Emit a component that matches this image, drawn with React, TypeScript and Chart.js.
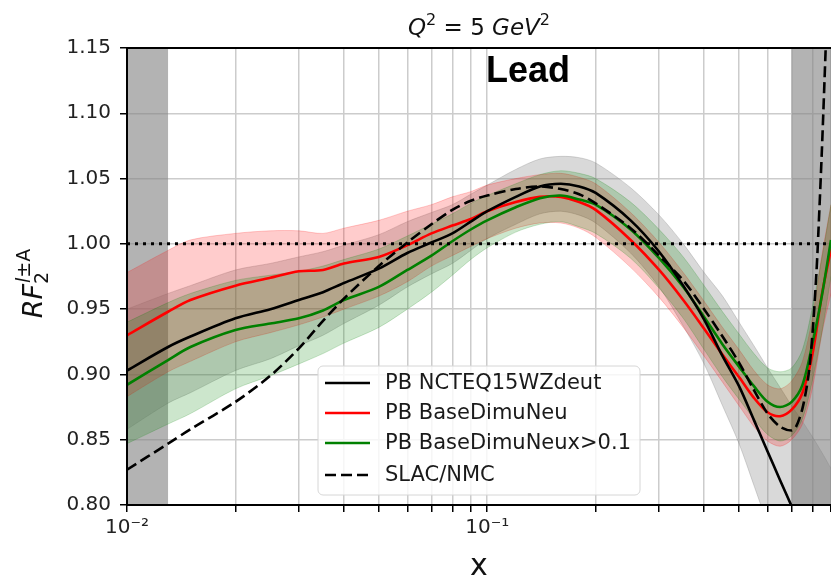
import React, { useEffect, useRef } from "react";
import { Chart, registerables } from "chart.js";

Chart.register(...registerables);

// ---------------- data ----------------
const xGrid = [0.01, 0.013, 0.015, 0.02, 0.025, 0.03, 0.035, 0.04, 0.05, 0.06, 0.07, 0.08, 0.09, 0.1, 0.12, 0.14, 0.16, 0.18, 0.2, 0.25, 0.3, 0.35, 0.4, 0.45, 0.5, 0.55, 0.6, 0.65, 0.7, 0.75, 0.8, 0.85, 0.9];

const ncteqCentral = [0.903, 0.921, 0.929, 0.943, 0.950, 0.957, 0.963, 0.970, 0.981, 0.993, 1.001, 1.008, 1.017, 1.025, 1.036, 1.044, 1.046, 1.044, 1.039, 1.018, 0.994, 0.968, 0.942, 0.914, 0.891, 0.865, 0.841, 0.819, 0.799, 0.780, 0.762, 0.746, 0.730];
const ncteqUpper = [0.950, 0.962, 0.968, 0.980, 0.985, 0.990, 0.994, 0.999, 1.007, 1.017, 1.024, 1.030, 1.038, 1.045, 1.057, 1.065, 1.067, 1.066, 1.062, 1.043, 1.022, 1.000, 0.978, 0.960, 0.940, 0.922, 0.905, 0.890, 0.876, 0.864, 0.852, 0.840, 0.828];
const ncteqLower = [0.858, 0.878, 0.886, 0.903, 0.912, 0.922, 0.930, 0.939, 0.953, 0.967, 0.977, 0.985, 0.995, 1.004, 1.015, 1.023, 1.025, 1.022, 1.016, 0.993, 0.967, 0.937, 0.908, 0.876, 0.847, 0.815, 0.785, 0.755, 0.725, 0.700, 0.670, 0.640, 0.610];

const baseCentral = [0.930, 0.948, 0.957, 0.968, 0.974, 0.979, 0.980, 0.985, 0.990, 0.999, 1.008, 1.014, 1.019, 1.025, 1.032, 1.036, 1.036, 1.032, 1.026, 1.003, 0.980, 0.957, 0.935, 0.915, 0.898, 0.882, 0.871, 0.868, 0.873, 0.886, 0.916, 0.962, 0.996];
const baseUpper = [0.978, 0.995, 1.003, 1.008, 1.010, 1.010, 1.008, 1.012, 1.018, 1.025, 1.030, 1.036, 1.040, 1.045, 1.050, 1.053, 1.054, 1.051, 1.046, 1.024, 1.001, 0.978, 0.956, 0.936, 0.919, 0.903, 0.892, 0.889, 0.895, 0.910, 0.944, 0.992, 1.030];
const baseLower = [0.883, 0.902, 0.910, 0.925, 0.932, 0.938, 0.944, 0.950, 0.960, 0.971, 0.983, 0.991, 0.998, 1.004, 1.012, 1.016, 1.016, 1.012, 1.005, 0.982, 0.959, 0.936, 0.914, 0.894, 0.876, 0.860, 0.849, 0.845, 0.850, 0.862, 0.890, 0.932, 0.962];

const cutCentral = [0.892, 0.911, 0.921, 0.934, 0.939, 0.943, 0.949, 0.957, 0.967, 0.980, 0.991, 1.002, 1.011, 1.018, 1.028, 1.035, 1.037, 1.034, 1.030, 1.011, 0.989, 0.967, 0.944, 0.923, 0.906, 0.891, 0.879, 0.875, 0.879, 0.892, 0.924, 0.961, 1.003];
const cutUpper = [0.940, 0.955, 0.962, 0.972, 0.976, 0.979, 0.983, 0.988, 0.996, 1.006, 1.015, 1.023, 1.031, 1.037, 1.046, 1.053, 1.056, 1.054, 1.050, 1.032, 1.011, 0.990, 0.968, 0.948, 0.931, 0.916, 0.905, 0.902, 0.905, 0.919, 0.952, 0.990, 1.030];
const cutLower = [0.847, 0.862, 0.870, 0.889, 0.899, 0.908, 0.916, 0.924, 0.936, 0.950, 0.963, 0.976, 0.988, 0.997, 1.009, 1.015, 1.017, 1.013, 1.008, 0.989, 0.966, 0.943, 0.919, 0.898, 0.881, 0.866, 0.854, 0.849, 0.853, 0.866, 0.896, 0.933, 0.975];

const slacX = [0.01, 0.013, 0.015, 0.02, 0.025, 0.03, 0.035, 0.04, 0.05, 0.06, 0.07, 0.08, 0.09, 0.1, 0.12, 0.14, 0.16, 0.18, 0.2, 0.25, 0.3, 0.35, 0.4, 0.45, 0.5, 0.55, 0.6, 0.65, 0.7, 0.72, 0.75, 0.78, 0.8, 0.82, 0.83, 0.85, 0.87, 0.9];
const slacY = [0.827, 0.847, 0.858, 0.879, 0.899, 0.920, 0.941, 0.958, 0.983, 1.001, 1.015, 1.026, 1.033, 1.037, 1.042, 1.044, 1.042, 1.038, 1.031, 1.012, 0.991, 0.972, 0.950, 0.929, 0.909, 0.888, 0.870, 0.860, 0.857, 0.860, 0.874, 0.900, 0.932, 0.978, 1.008, 1.075, 1.150, 1.260];

const unityX = [0.01, 0.9];
const unityY = [1.0, 1.0];

const xTicks = [0.01, 0.02, 0.03, 0.04, 0.05, 0.06, 0.07, 0.08, 0.09, 0.1, 0.2, 0.3, 0.4, 0.5, 0.6, 0.7, 0.8, 0.9];
const xTickLabels: Record<string, string> = { "0.01": "10\u207B\u00B2", "0.1": "10\u207B\u00B9" };
const yTicks = [0.8, 0.85, 0.9, 0.95, 1.0, 1.05, 1.1, 1.15];
const shadedRanges = [[0.01, 0.013], [0.7, 0.9]];

const seriesNames = ["PB NCTEQ15WZdeut", "PB BaseDimuNeu", "PB BaseDimuNeux>0.1", "SLAC/NMC"];

const pts = (xs: number[], ys: number[]) => xs.map((x, i) => ({ x, y: ys[i] }));

const FONT = '"DejaVu Sans"';

type Run = { t: string; size: number; italic?: boolean; dy?: number; bold?: boolean; family?: string };

function runWidth(ctx: CanvasRenderingContext2D, r: Run) {
  ctx.font = `${r.italic ? "italic " : ""}${r.bold ? "bold " : ""}${r.size}px ${r.family || FONT}`;
  return ctx.measureText(r.t).width;
}
function drawRuns(ctx: CanvasRenderingContext2D, runs: Run[], x: number, y: number) {
  let cx = x;
  for (const r of runs) {
    const w = runWidth(ctx, r);
    ctx.fillText(r.t, cx, y + (r.dy || 0));
    cx += w;
  }
  return cx - x;
}
function totalWidth(ctx: CanvasRenderingContext2D, runs: Run[]) {
  return runs.reduce((s, r) => s + runWidth(ctx, r), 0);
}

const decorPlugin = {
  id: "decor",
  beforeDatasetsDraw(chart: any) {
    const { ctx, chartArea, scales } = chart;
    ctx.save();
    ctx.fillStyle = "rgba(128,128,128,0.6)";
    for (const [a, b] of shadedRanges) {
      const x0 = scales.x.getPixelForValue(a);
      const x1 = scales.x.getPixelForValue(b);
      ctx.fillRect(x0, chartArea.top, x1 - x0, chartArea.bottom - chartArea.top);
    }
    ctx.restore();
  },
  afterDraw(chart: any) {
    const { ctx, chartArea } = chart;
    ctx.save();
    // spines
    ctx.strokeStyle = "#000";
    ctx.lineWidth = 2;
    ctx.beginPath();
    ctx.moveTo(chartArea.left, chartArea.top);
    ctx.lineTo(chartArea.right, chartArea.top);
    ctx.moveTo(chartArea.left, chartArea.top);
    ctx.lineTo(chartArea.left, chartArea.bottom);
    ctx.lineTo(chartArea.right, chartArea.bottom);
    ctx.stroke();

    ctx.fillStyle = "#111";
    ctx.textBaseline = "alphabetic";
    ctx.textAlign = "left";
    // title
    const titleRuns: Run[] = [
      { t: "Q", size: 23, italic: true },
      { t: "2", size: 16, dy: -10 },
      { t: " = 5 ", size: 23 },
      { t: "GeV", size: 23, italic: true },
      { t: "2", size: 16, dy: -10 },
    ];
    const cxT = (chartArea.left + chartArea.right) / 2;
    const tw = totalWidth(ctx, titleRuns);
    drawRuns(ctx, titleRuns, cxT - tw / 2, 35);

    // Lead
    ctx.fillStyle = "#000";
    ctx.font = 'bold 36px "Liberation Sans"';
    ctx.fillText("Lead", 486, 82);

    // x label
    ctx.fillStyle = "#111";
    ctx.font = `30px ${FONT}`;
    ctx.textAlign = "center";
    ctx.fillText("x", cxT, 575);

    // y label
    ctx.save();
    ctx.translate(42, 284);
    ctx.rotate(-Math.PI / 2);
    ctx.textAlign = "left";
    const main: Run[] = [{ t: "RF", size: 27, italic: true }];
    const sub: Run = { t: "2", size: 19, dy: 6 };
    const sup: Run[] = [{ t: "l", size: 19, italic: true, dy: -12 }, { t: "\u00B1A", size: 19, dy: -12 }];
    const mw = totalWidth(ctx, main);
    const sw = Math.max(runWidth(ctx, sub), totalWidth(ctx, sup));
    const start = -(mw + sw) / 2;
    drawRuns(ctx, main, start, 0);
    drawRuns(ctx, [sub], start + mw, 0);
    drawRuns(ctx, sup, start + mw + 1, 0);
    ctx.restore();

    // legend
    const lx = 318, ly = 366, lw = 322, lh = 129;
    ctx.beginPath();
    (ctx as any).roundRect(lx, ly, lw, lh, 5);
    ctx.fillStyle = "rgba(255,255,255,0.82)";
    ctx.fill();
    ctx.strokeStyle = "#d6d6d6";
    ctx.lineWidth = 1;
    ctx.stroke();
    const rows = [383, 413, 443, 475];
    const legendSets = chart.data.datasets.filter((d: any) => d.legendRow !== undefined);
    legendSets.sort((a: any, b: any) => a.legendRow - b.legendRow);
    legendSets.forEach((d: any, i: number) => {
      const y = rows[i];
      ctx.strokeStyle = d.borderColor;
      ctx.lineWidth = d.borderWidth;
      ctx.setLineDash(d.borderDash || []);
      ctx.beginPath();
      ctx.moveTo(325, y);
      ctx.lineTo(370, y);
      ctx.stroke();
      ctx.setLineDash([]);
      ctx.fillStyle = "#1a1a1a";
      ctx.font = `21px ${FONT}`;
      ctx.textAlign = "left";
      ctx.textBaseline = "middle";
      ctx.fillText(d.label, 385, y + 1);
    });
    ctx.restore();
  },
};

function band(upper: number[], lower: number[], color: string) {
  return [
    {
      label: "",
      data: pts(xGrid, upper),
      borderColor: color,
      borderWidth: 1,
      backgroundColor: color,
      fill: "+1",
      pointRadius: 0,
      order: 5,
      clip: 0,
      tension: 0.3,
    },
    {
      label: "",
      data: pts(xGrid, lower),
      borderColor: color,
      borderWidth: 1,
      backgroundColor: color,
      fill: false,
      pointRadius: 0,
      order: 5,
      clip: 0,
      tension: 0.3,
    },
  ];
}

export default function App() {
  const ref = useRef<HTMLCanvasElement | null>(null);
  useEffect(() => {
    if (!ref.current) return;
    const chart = new Chart(ref.current, {
      type: "line",
      data: {
        datasets: [
          {
            label: "unity",
            data: pts(unityX, unityY),
            borderColor: "#000",
            borderWidth: 3,
            borderDash: [3, 5],
            pointRadius: 0,
            fill: false,
            order: 0,
            clip: 0,
          },
          {
            label: seriesNames[3],
            legendRow: 3,
            data: pts(slacX, slacY),
            borderColor: "#000",
            borderWidth: 2.6,
            borderDash: [11, 5],
            pointRadius: 0,
            fill: false,
            order: 1,
            clip: 0,
            tension: 0.3,
          },
          {
            label: seriesNames[0],
            legendRow: 0,
            data: pts(xGrid, ncteqCentral),
            borderColor: "#000",
            borderWidth: 2.6,
            pointRadius: 0,
            fill: false,
            order: 1,
            clip: 0,
            tension: 0.3,
          },
          {
            label: seriesNames[2],
            legendRow: 2,
            data: pts(xGrid, cutCentral),
            borderColor: "#008000",
            borderWidth: 2.6,
            pointRadius: 0,
            fill: false,
            order: 1,
            clip: 0,
            tension: 0.3,
          },
          {
            label: seriesNames[1],
            legendRow: 1,
            data: pts(xGrid, baseCentral),
            borderColor: "#ff0000",
            borderWidth: 2.6,
            pointRadius: 0,
            fill: false,
            order: 1,
            clip: 0,
            tension: 0.3,
          },
          ...band(cutUpper, cutLower, "rgba(0,128,0,0.2)"),
          ...band(baseUpper, baseLower, "rgba(255,0,0,0.2)"),
          ...band(ncteqUpper, ncteqLower, "rgba(128,128,128,0.3)"),
        ] as any,
      },
      options: {
        animation: false,
        responsive: true,
        maintainAspectRatio: false,
        layout: { padding: { top: 48, left: 0, right: 0, bottom: 0 } },
        plugins: { legend: { display: false }, title: { display: false }, tooltip: { enabled: false } },
        scales: {
          x: {
            type: "logarithmic",
            min: 0.01,
            max: 0.9,
            afterBuildTicks: (s: any) => {
              s.ticks = xTicks.map((v) => ({ value: v }));
            },
            afterFit: (s: any) => {
              s.height = 74;
              s.paddingRight = 0;
              s.paddingLeft = 0;
            },
            ticks: {
              autoSkip: false,
              maxRotation: 0,
              padding: 4,
              color: "#222",
              font: { family: "DejaVu Sans", size: 20 },
              callback: (v: any) => xTickLabels[String(v)] || "",
            },
            grid: { color: "#cccccc", lineWidth: 1.5, tickColor: "#000", tickLength: 7, tickWidth: 1.5 },
            border: { color: "#000", width: 2 },
          },
          y: {
            type: "linear",
            min: 0.8,
            max: 1.15,
            afterBuildTicks: (s: any) => {
              s.ticks = yTicks.map((v) => ({ value: v }));
            },
            afterFit: (s: any) => {
              s.width = 127;
              s.paddingTop = 0;
              s.paddingBottom = 0;
            },
            ticks: {
              padding: 9,
              color: "#222",
              font: { family: "DejaVu Sans", size: 20 },
              callback: (v: any) => Number(v).toFixed(2),
            },
            grid: { color: "#cccccc", lineWidth: 1.5, tickColor: "#000", tickLength: 7, tickWidth: 1.5 },
            border: { color: "#000", width: 2 },
          },
        },
      } as any,
      plugins: [decorPlugin],
    });
    return () => chart.destroy();
  }, []);
  return (
    <div style={{ position: "fixed", left: 0, top: 0, width: 831, height: 579, background: "#fff" }}>
      <canvas ref={ref} />
    </div>
  );
}
